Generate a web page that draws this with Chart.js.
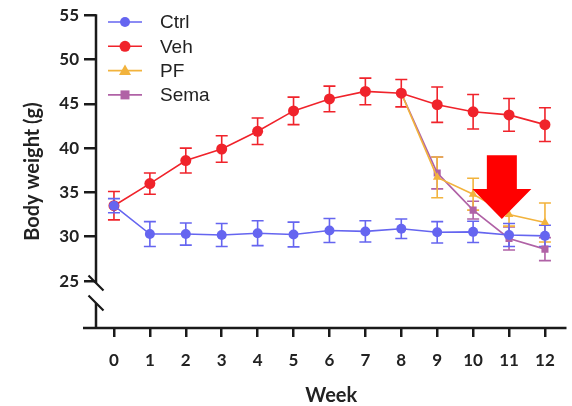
<!DOCTYPE html>
<html>
<head>
<meta charset="utf-8">
<script src="https://cdn.jsdelivr.net/npm/chart.js@4.4.0/dist/chart.umd.min.js"></script>
<style>
  html, body { margin: 0; padding: 0; background: #fff; }
</style>
</head>
<body>
<canvas id="weightChart" width="572" height="406"></canvas>
<script>
/**
 * Data
 */
const weeks = [0, 1, 2, 3, 4, 5, 6, 7, 8, 9, 10, 11, 12];
const yTicks = [25, 30, 35, 40, 45, 50, 55];
const seriesNames = ['Ctrl', 'Veh', 'PF', 'Sema'];

const ctrlMean = [33.5, 30.3, 30.3, 30.2, 30.4, 30.25, 30.7, 30.6, 30.9, 30.5, 30.55, 30.2, 30.1];
const ctrlErr  = [0.8, 1.4, 1.25, 1.3, 1.4, 1.4, 1.35, 1.2, 1.1, 1.2, 1.2, 1.3, 1.2];
const vehMean  = [33.5, 36.0, 38.6, 39.9, 41.9, 44.2, 45.55, 46.4, 46.2, 44.9, 44.1, 43.75, 42.65];
const vehErr   = [1.6, 1.2, 1.4, 1.5, 1.5, 1.55, 1.45, 1.5, 1.55, 2.0, 1.95, 1.85, 1.9];
const pfMean   = [null, null, null, null, null, null, null, null, 46.2, 36.7, 34.8, 32.5, 31.6];
const pfErr    = [null, null, null, null, null, null, null, null, null, 2.3, 1.8, 1.3, 2.2];
const semaMean = [null, null, null, null, null, null, null, null, 46.2, 37.2, 33.0, 29.8, 28.6];
const semaErr  = [null, null, null, null, null, null, null, null, null, 1.8, 1.0, 1.3, 1.3];

/**
 * Styles
 */
const INK = '#1a1a1a';
const colors = ['#6565f0', '#f0232b', '#f2b33d', '#b062a6'];
const shapes = ['circle', 'circle', 'triangle', 'rect'];
const radii = [5, 5.5, 5, 5];
// arrow annotation, in data units (tip, head base, shaft top) and pixel half widths
const arrow = { x: 10.8, tipY: 32.0, headY: 35.4, topY: 39.2, shaftHalf: 15, headHalf: 29.5, color: '#ff0000' };

const toPoints = (ys) => weeks.map((w, i) => ({ x: w, y: ys[i] }));

const datasets = [
  [ctrlMean, ctrlErr], [vehMean, vehErr], [pfMean, pfErr], [semaMean, semaErr]
].map(([m, e], i) => ({
  label: seriesNames[i],
  data: toPoints(m),
  errors: e,
  borderColor: colors[i],
  backgroundColor: colors[i],
  borderWidth: 1.6,
  pointStyle: shapes[i],
  pointRadius: radii[i],
  pointBorderWidth: 0,
  pointHoverRadius: radii[i],
  spanGaps: false,
  tension: 0
}));

/**
 * Plugin: error bars, axes with break, legend, arrow
 */
const extrasPlugin = {
  id: 'extras',
  beforeDatasetsDraw(chart) {
    const { ctx, scales: { x, y } } = chart;
    ctx.save();
    for (let d = chart.data.datasets.length - 1; d >= 0; d--) {
      const ds = chart.data.datasets[d];
      ctx.strokeStyle = ds.borderColor;
      ctx.lineWidth = 1.6;
      ds.data.forEach((p, i) => {
        const e = ds.errors[i];
        if (p.y == null || e == null) return;
        const px = x.getPixelForValue(p.x);
        const top = y.getPixelForValue(p.y + e);
        const bot = y.getPixelForValue(p.y - e);
        ctx.beginPath();
        ctx.moveTo(px, top); ctx.lineTo(px, bot);
        ctx.moveTo(px - 6, top); ctx.lineTo(px + 6, top);
        ctx.moveTo(px - 6, bot); ctx.lineTo(px + 6, bot);
        ctx.stroke();
      });
    }
    ctx.restore();
  },
  afterDraw(chart) {
    const { ctx, chartArea: area, scales: { x, y } } = chart;
    ctx.save();
    // axes
    ctx.strokeStyle = INK;
    ctx.lineWidth = 2.5;
    ctx.lineCap = 'butt';
    const ax = area.left;
    const y25 = y.getPixelForValue(25);
    const brk1 = y25 + 2, brk2 = y25 + 22;
    ctx.beginPath();
    ctx.moveTo(ax, area.top - 1); ctx.lineTo(ax, brk1);
    ctx.moveTo(ax, brk2); ctx.lineTo(ax, area.bottom);
    ctx.moveTo(ax - 13, area.bottom); ctx.lineTo(area.right, area.bottom);
    ctx.stroke();
    // break marks
    ctx.lineWidth = 2.2;
    ctx.beginPath();
    [brk1, brk2].forEach(by => {
      ctx.moveTo(ax - 7.5, by - 7.5); ctx.lineTo(ax + 7.5, by + 7.5);
    });
    ctx.stroke();

    // legend
    ctx.font = '19px "Liberation Sans", Arial, sans-serif';
    ctx.textBaseline = 'middle';
    chart.data.datasets.forEach((ds, i) => {
      const ly = 22 + i * 24.3;
      ctx.strokeStyle = ds.borderColor;
      ctx.lineWidth = 1.6;
      ctx.beginPath(); ctx.moveTo(108, ly); ctx.lineTo(142, ly); ctx.stroke();
      ctx.fillStyle = ds.backgroundColor;
      ctx.beginPath();
      if (ds.pointStyle === 'circle') ctx.arc(125, ly, ds.pointRadius, 0, Math.PI * 2);
      else if (ds.pointStyle === 'rect') ctx.rect(125 - 4.5, ly - 4.5, 9, 9);
      else { ctx.moveTo(125, ly - 6); ctx.lineTo(131, ly + 4.5); ctx.lineTo(119, ly + 4.5); ctx.closePath(); }
      ctx.fill();
      ctx.fillStyle = '#222';
      ctx.fillText(ds.label, 160, ly + 1);
    });

    // red arrow
    const cx = x.getPixelForValue(arrow.x);
    const tip = y.getPixelForValue(arrow.tipY);
    const head = y.getPixelForValue(arrow.headY);
    const top = y.getPixelForValue(arrow.topY);
    ctx.fillStyle = arrow.color;
    ctx.beginPath();
    ctx.moveTo(cx - arrow.shaftHalf, top);
    ctx.lineTo(cx + arrow.shaftHalf, top);
    ctx.lineTo(cx + arrow.shaftHalf, head);
    ctx.lineTo(cx + arrow.headHalf, head);
    ctx.lineTo(cx, tip);
    ctx.lineTo(cx - arrow.headHalf, head);
    ctx.lineTo(cx - arrow.shaftHalf, head);
    ctx.closePath();
    ctx.fill();
    ctx.restore();
  }
};

/**
 * Build chart
 */
const tickFont = { family: 'Lato, "Open Sans", sans-serif', size: 17, weight: 'bold' };
const titleFont = { family: 'Lato, "Open Sans", sans-serif', size: 20, weight: 'bold' };

new Chart(document.getElementById('weightChart'), {
  type: 'line',
  data: { datasets: datasets },
  options: {
    responsive: false,
    animation: false,
    layout: { padding: { top: 14, right: 2, left: 0, bottom: 0 } },
    plugins: { legend: { display: false }, tooltip: { enabled: false } },
    scales: {
      x: {
        type: 'linear',
        min: -0.5,
        max: 12.6,
        afterBuildTicks: (scale) => { scale.ticks = weeks.map(v => ({ value: v })); },
        afterFit: (scale) => { scale.height = 78; },
        border: { display: false },
        grid: { drawOnChartArea: false, drawTicks: true, tickLength: 9, color: INK, lineWidth: 2.5 },
        ticks: { color: '#222', font: tickFont, padding: 13, maxRotation: 0, autoSkip: false },
        title: { display: true, text: 'Week', color: '#222', font: titleFont, padding: { top: 0, bottom: -2 } }
      },
      y: {
        min: 19.7,
        max: 55,
        afterBuildTicks: (scale) => { scale.ticks = yTicks.map(v => ({ value: v })); },
        afterFit: (scale) => { scale.width = 96; },
        border: { display: false },
        grid: { drawOnChartArea: false, drawTicks: true, tickLength: 12, color: INK, lineWidth: 2.5 },
        ticks: { color: '#222', font: tickFont, padding: 5 },
        title: { display: true, text: 'Body weight (g)', color: '#222', font: titleFont, padding: { top: 21, bottom: 0 } }
      }
    }
  },
  plugins: [extrasPlugin]
});
</script>
</body>
</html>
